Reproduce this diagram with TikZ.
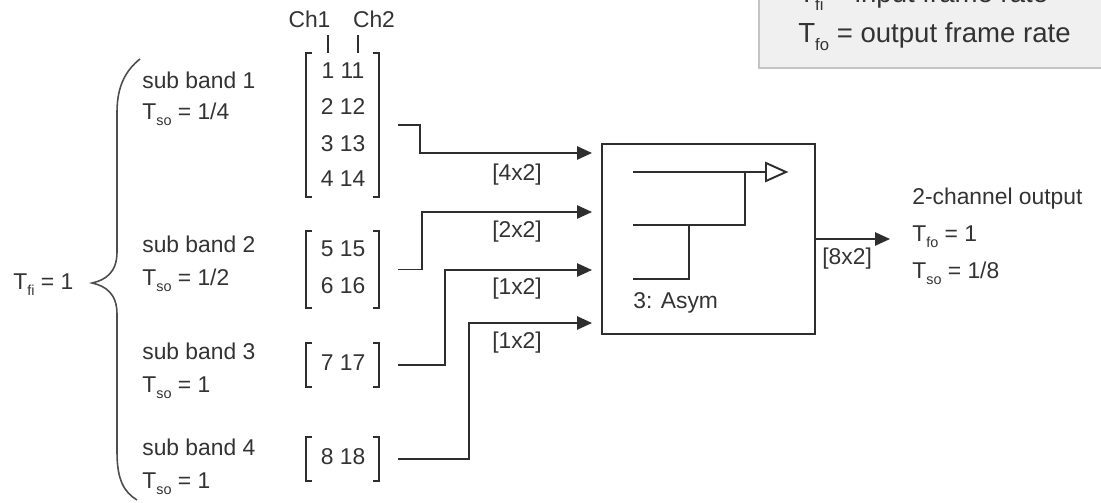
\documentclass[tikz,border=0pt]{standalone}
\usepackage{fontspec}
\setmainfont{Liberation Sans}
\usetikzlibrary{arrows.meta}
\definecolor{txt}{HTML}{333333}
\definecolor{ln}{HTML}{2E2E2E}
\definecolor{lgfill}{HTML}{F0F0F0}
\definecolor{lgdraw}{HTML}{C4C4C4}
\newcommand\sbs[1]{\raisebox{-3.4pt}{\fontsize{8.2}{9}\selectfont #1}}
\newcommand\sbl[1]{\raisebox{-4pt}{\fontsize{9.5}{10}\selectfont #1}}
\begin{document}
\begin{tikzpicture}[x=0.02cm,y=-0.02cm,
  every node/.style={font=\fontsize{13}{15}\selectfont, text=txt, inner sep=0pt},
  lbl/.style={anchor=west, text height=0.716em, text depth=0pt},
  clbl/.style={anchor=center, text height=0.716em, text depth=0pt},
  legtxt/.style={anchor=base west, font=\fontsize{15.7}{18}\selectfont},
  matbox/.style={minimum width=1.46cm},
  brk/.style={draw=ln, line width=1pt},
  brace/.style={draw=ln!85, line width=0.9pt},
  conn/.style={draw=ln, line width=1.1pt, -{Triangle[length=8.5pt,width=7.5pt]}},
  icon/.style={draw=ln, line width=1.1pt},
  tick/.style={draw=ln, line width=0.8pt}
]
\useasboundingbox (0,0) rectangle (1101,503);
\clip (0,0) rectangle (1101,503);

% legend
\path[fill=lgfill, draw=lgdraw, line width=0.9pt] (759,-20) rectangle (1120,68);
\node[legtxt] (leg1) at (798,3) {T\sbl{fi} = input frame rate};
\node[legtxt] (leg2) at (798,43) {T\sbl{fo} = output frame rate};

% channel labels
\node[clbl] (ch1) at (309.5,21) {Ch1};
\node[clbl] (ch2) at (374,21) {Ch2};

% matrices
\node[matbox, minimum height=2.88cm] (m1) at (342.5,125) {};
\node[matbox, minimum height=1.54cm] (m2) at (342.5,269.5) {};
\node[matbox, minimum height=0.88cm] (m3) at (342.5,365) {};
\node[matbox, minimum height=0.88cm] (m4) at (342.5,459) {};
\foreach \m in {m1,m2,m3,m4}{
  \draw[brk] (\m.north west) ++(6,0) -- (\m.north west) -- (\m.south west) -- ++(6,0);
  \draw[brk] (\m.north east) ++(-6,0) -- (\m.north east) -- (\m.south east) -- ++(-6,0);
}
\coordinate (t1) at (328,35);
\coordinate (t2) at (358,35);
\draw[tick] (t1) -- (t1 |- m1.north);
\draw[tick] (t2) -- (t2 |- m1.north);

\node[clbl] (r11) at (343,72) {1 11};
\node[clbl] (r12) at (343,108) {2 12};
\node[clbl] (r13) at (343,145) {3 13};
\node[clbl] (r14) at (343,180) {4 14};
\node[clbl] (r21) at (343,250) {5 15};
\node[clbl] (r22) at (343,287) {6 16};
\node[clbl] (r31) at (343,364) {7 17};
\node[clbl] (r41) at (343,458) {8 18};

% sub band texts
\node[lbl] (sb1) at (142,82.5) {sub band 1};
\node[lbl] (ts1) at (142,113.5) {T\sbs{so} = 1/4};
\node[lbl] (sb2) at (142,246.5) {sub band 2};
\node[lbl] (ts2) at (142,279.5) {T\sbs{so} = 1/2};
\node[lbl] (sb3) at (142,353.5) {sub band 3};
\node[lbl] (ts3) at (142,386) {T\sbs{so} = 1};
\node[lbl] (sb4) at (142,449.5) {sub band 4};
\node[lbl] (ts4) at (142,482.5) {T\sbs{so} = 1};

\node[lbl] (tfi) at (13,283.5) {T\sbs{fi} = 1};

% brace
\draw[brace] (140,59) .. controls (126,70) and (117,86) .. (117,112) -- (117,252)
  .. controls (117,272) and (106,280) .. (92,283)
  .. controls (106,286) and (117,294) .. (117,314) -- (117,452)
  .. controls (117,480) and (124,492) .. (137,500);

% block
\node[draw=ln, line width=1.1pt, minimum width=4.26cm, minimum height=3.8cm] (blk) at (708.5,239) {};
\draw[icon] (633,172) -- (766,172);
\draw[icon] (633,225) -- (745,225) -- (745,172);
\draw[icon] (633,279) -- (689,279) -- (689,225);
\draw[icon, fill=white, line join=miter] (766,163) -- (786,172) -- (766,181) -- cycle;
\node[lbl] (asym) at (633,302) {3: Asym};

% input points
\coordinate (i1) at (592,153);
\coordinate (i2) at (592,212);
\coordinate (i3) at (592,270);
\coordinate (i4) at (592,323);

\draw[conn] ([xshift=10.8pt]m1.east) -- ++(22,0) |- (i1);
\draw[conn] ([xshift=10.8pt]m2.east) -- ++(24,0) |- (i2);
\draw[conn] ([xshift=10.8pt]m3.east) -- ++(47,0) |- (i3);
\draw[conn] ([xshift=10.8pt]m4.east) -- ++(71,0) |- (i4);

\node[clbl] (l1) at (517,174) {[4x2]};
\node[clbl] (l2) at (517,231) {[2x2]};
\node[clbl] (l3) at (517,288) {[1x2]};
\node[clbl] (l4) at (517,342) {[1x2]};

% output
\coordinate (o) at (890,239);
\draw[conn] (blk.east) -- (o);
\node[lbl] (l5) at (822,258) {[8x2]};

\node[lbl] (out1) at (912,198.5) {2-channel output};
\node[lbl] (out2) at (912,235) {T\sbs{fo} = 1};
\node[lbl] (out3) at (912,272.5) {T\sbs{so} = 1/8};
\end{tikzpicture}
\end{document}
